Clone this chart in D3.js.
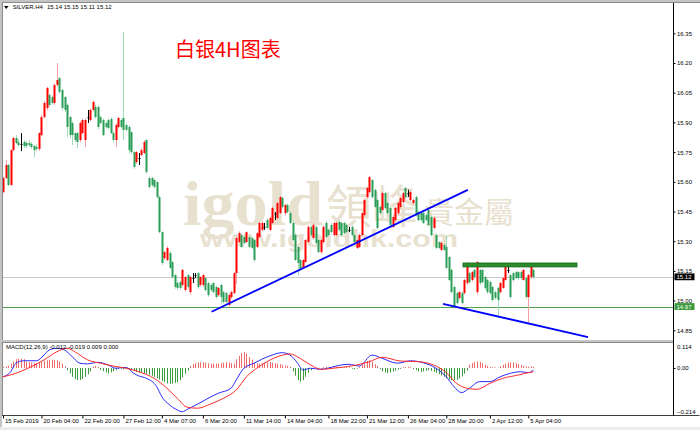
<!DOCTYPE html>
<html><head><meta charset="utf-8">
<script src="https://cdn.jsdelivr.net/npm/d3@7"></script>
<style>body{margin:0;background:#fff}svg{display:block}</style>
</head><body>
<svg id="chart" width="700" height="430"></svg>
<script>
// ---------- DATA ----------
const opens=[15.548,15.619,15.685,15.584,15.76,15.821,15.80,15.791,15.801,15.796,15.796,15.791,15.781,15.776,15.766,15.836,15.927,15.973,16.038,16.028,15.998,16.089,16.124,16.064,16.028,15.988,15.927,15.897,15.846,15.846,15.811,15.846,15.811,15.927,15.912,15.963,15.978,15.978,15.927,15.912,15.897,15.912,15.917,15.846,15.811,15.877,15.912,15.922,15.887,15.877,15.851,15.75,15.70,15.72,15.735,15.745,15.811,15.619,15.619,15.609,15.599,15.523,15.346,15.215,15.205,15.24,15.195,15.129,15.089,15.094,15.079,15.054,15.129,15.043,15.114,15.129,15.139,15.079,15.079,15.114,15.089,15.079,15.089,15.069,15.028,15.079,15.043,15.038,14.978,15.018,15.038,15.139,15.296,15.331,15.321,15.296,15.321,15.316,15.306,15.271,15.321,15.357,15.372,15.407,15.357,15.392,15.44,15.417,15.442,15.518,15.442,15.483,15.442,15.392,15.331,15.271,15.205,15.165,15.195,15.296,15.372,15.316,15.372,15.306,15.245,15.296,15.392,15.357,15.382,15.331,15.331,15.397,15.392,15.392,15.382,15.357,15.372,15.331,15.266,15.271,15.331,15.432,15.523,15.548,15.609,15.559,15.508,15.473,15.458,15.543,15.493,15.468,15.372,15.407,15.442,15.473,15.498,15.569,15.543,15.508,15.493,15.523,15.447,15.442,15.442,15.432,15.458,15.422,15.367,15.331,15.296,15.256,15.281,15.271,15.22,15.155,15.069,15.038,15.013,15.038,15.038,15.089,15.139,15.104,15.155,15.043,15.155,15.155,15.119,15.104,15.094,15.069,15.043,15.064,15.043,15.064,15.104,15.155,15.129,15.139,15.144,15.144,15.144,15.104,15.114,15.018,15.119,15.155];
const highs=[15.625,15.71,15.69,15.765,15.826,15.836,15.816,15.846,15.811,15.806,15.811,15.80,15.786,15.79,15.85,15.937,16.008,16.08,16.045,16.035,16.095,16.20,16.13,16.07,16.035,15.995,15.932,15.905,15.85,15.85,15.905,15.92,15.92,15.963,15.97,16.013,15.99,15.985,15.935,15.92,15.905,15.92,15.925,15.855,15.895,15.93,15.92,16.358,15.895,15.885,15.855,15.755,15.755,15.745,15.77,15.81,15.815,15.625,15.625,15.615,15.605,15.53,15.35,15.25,15.275,15.25,15.2,15.135,15.095,15.1,15.16,15.125,15.135,15.125,15.139,15.139,15.145,15.125,15.135,15.12,15.095,15.085,15.095,15.075,15.07,15.085,15.05,15.045,15.035,15.05,15.145,15.325,15.35,15.34,15.33,15.35,15.33,15.32,15.31,15.345,15.40,15.40,15.392,15.415,15.425,15.475,15.447,15.50,15.53,15.525,15.49,15.49,15.45,15.40,15.34,15.275,15.21,15.21,15.31,15.38,15.38,15.39,15.38,15.31,15.31,15.38,15.40,15.365,15.39,15.40,15.40,15.405,15.40,15.40,15.39,15.372,15.38,15.34,15.31,15.34,15.45,15.515,15.575,15.63,15.615,15.565,15.515,15.48,15.55,15.55,15.50,15.475,15.43,15.475,15.50,15.525,15.55,15.575,15.56,15.555,15.515,15.53,15.455,15.45,15.45,15.44,15.465,15.43,15.425,15.34,15.30,15.30,15.29,15.331,15.225,15.16,15.075,15.045,15.05,15.045,15.11,15.195,15.145,15.15,15.16,15.20,15.16,15.16,15.125,15.11,15.10,15.075,15.05,15.07,15.095,15.12,15.175,15.18,15.135,15.145,15.15,15.15,15.15,15.16,15.12,15.135,15.175,15.16];
const lows=[15.543,15.614,15.578,15.578,15.755,15.79,15.776,15.755,15.771,15.771,15.776,15.766,15.725,15.755,15.755,15.83,15.92,15.96,15.978,15.99,15.99,16.08,16.045,15.96,15.952,15.826,15.82,15.786,15.80,15.77,15.80,15.84,15.776,15.897,15.905,15.955,15.92,15.865,15.89,15.83,15.87,15.865,15.84,15.80,15.776,15.87,15.87,15.811,15.855,15.745,15.74,15.665,15.69,15.685,15.73,15.74,15.64,15.565,15.575,15.565,15.515,15.34,15.18,15.205,15.2,15.16,15.11,15.06,15.055,15.055,15.07,15.045,15.06,15.03,15.089,15.114,15.06,15.07,15.07,15.045,15.02,15.045,15.035,15.01,15.02,14.978,14.985,14.985,14.97,15.01,15.03,15.085,15.29,15.265,15.285,15.29,15.265,15.26,15.195,15.265,15.315,15.35,15.357,15.36,15.35,15.385,15.407,15.41,15.437,15.465,15.43,15.44,15.385,15.30,15.20,15.129,15.15,15.16,15.19,15.29,15.325,15.31,15.285,15.24,15.235,15.29,15.315,15.325,15.34,15.325,15.325,15.35,15.325,15.335,15.34,15.346,15.325,15.29,15.26,15.265,15.325,15.425,15.515,15.54,15.515,15.465,15.36,15.435,15.45,15.46,15.435,15.375,15.365,15.40,15.435,15.465,15.49,15.515,15.523,15.50,15.485,15.425,15.40,15.40,15.385,15.40,15.375,15.325,15.36,15.26,15.26,15.25,15.25,15.16,15.10,15.035,14.96,14.98,15.005,14.98,15.03,15.08,15.085,15.095,15.11,15.03,15.08,15.085,15.055,15.035,15.03,14.995,15.005,14.917,15.035,15.06,15.10,15.139,15.01,15.095,15.11,15.105,15.105,15.10,15.01,14.887,15.11,15.11];
const closes=[15.619,15.685,15.584,15.76,15.821,15.796,15.786,15.791,15.781,15.781,15.786,15.776,15.76,15.766,15.846,15.927,15.998,16.074,15.988,15.998,16.089,16.114,16.054,15.973,15.963,15.877,15.836,15.836,15.811,15.801,15.897,15.912,15.912,15.927,15.963,16.003,15.927,15.877,15.897,15.836,15.877,15.872,15.846,15.811,15.887,15.922,15.877,15.862,15.862,15.76,15.75,15.675,15.75,15.72,15.76,15.801,15.65,15.574,15.584,15.574,15.523,15.346,15.19,15.245,15.266,15.165,15.119,15.069,15.064,15.064,15.155,15.119,15.069,15.119,15.114,15.129,15.069,15.119,15.129,15.054,15.028,15.054,15.043,15.018,15.064,15.018,14.993,14.993,15.028,15.043,15.139,15.316,15.341,15.271,15.291,15.346,15.271,15.266,15.205,15.341,15.392,15.392,15.372,15.367,15.417,15.468,15.44,15.493,15.523,15.473,15.483,15.447,15.392,15.306,15.205,15.19,15.155,15.205,15.306,15.372,15.331,15.382,15.291,15.245,15.306,15.372,15.321,15.331,15.346,15.392,15.392,15.357,15.331,15.341,15.346,15.357,15.331,15.296,15.306,15.331,15.442,15.508,15.569,15.624,15.523,15.473,15.367,15.442,15.543,15.468,15.442,15.382,15.422,15.468,15.493,15.518,15.543,15.523,15.543,15.548,15.508,15.432,15.407,15.407,15.392,15.407,15.382,15.331,15.417,15.266,15.266,15.291,15.256,15.165,15.104,15.043,14.968,14.988,15.043,14.988,15.104,15.17,15.094,15.144,15.119,15.195,15.089,15.094,15.064,15.043,15.038,15.003,15.013,15.003,15.089,15.114,15.17,15.155,15.018,15.104,15.114,15.114,15.114,15.155,15.018,15.129,15.17,15.119];

// MACD histogram (thousandths), one per bar
const histogram=[5,8,10,20,30,40,43,43,40,28,27,25,22,22,25,30,33,35,37,38,37,35,30,20,8,-10,-25,-40,-50,-55,-55,-50,-40,-28,-15,5,8,5,-8,-15,-20,-25,-20,-15,-10,-5,-3,-6,-4,-8,-10,-12,-18,-20,-22,-24,-26,-30,-35,-41,-46,-52,-58,-64,-70,-71,-71,-68,-64,-55,-42,-26,-11,10,18,22,25,27,27,25,22,20,20,20,20,22,25,27,25,22,20,40,55,68,73,65,50,38,25,22,20,22,24,25,27,25,22,20,18,15,12,10,6,-15,-35,-55,-62,-55,-40,-22,-10,-4,3,-3,-5,4,5,-3,2,4,6,5,4,3,5,3,-4,-6,-3,5,15,25,32,35,28,18,10,-5,-15,-20,-23,-20,-16,-12,-8,-4,3,5,6,4,-5,-10,-15,-18,-15,-12,-10,-13,-17,-22,-28,-34,-40,-46,-52,-56,-56,-54,-48,-38,-26,-12,15,22,28,30,28,22,15,10,5,4,3,2,8,15,20,25,26,25,22,18,14,10,8,6,8,6];
// MACD main line (blue) read points: bar index / value
const macdIdx=[0,3,5,8,13,16,18,21,24,27,30,33,37,41,44,48,51,53,56,60,62,65,68,70,72,76,80,84,89,91,94,98,101,105,109,112,115,117,120,124,128,132,135,139,144,148,154,159,164,169,173,176,179,182,186,190,194,198,202,205,207];
const macdVal=[-0.040,-0.017,0.022,0.033,0.033,0.059,0.082,0.090,0.082,0.052,0.022,0.019,0.026,0.014,-0.001,0.003,-0.024,-0.036,-0.047,-0.085,-0.131,-0.168,-0.191,-0.199,-0.188,-0.164,-0.138,-0.115,-0.092,-0.055,-0.001,0.022,0.040,0.059,0.070,0.059,0.022,-0.009,-0.001,-0.006,0.003,0.014,0.017,0.009,0.059,0.044,0.022,0.033,0.024,-0.001,-0.040,-0.085,-0.112,-0.092,-0.062,-0.062,-0.040,-0.024,-0.017,-0.021,-0.009];
// Signal line (red)
const sigIdx=[0,5,11,16,21,25,29,33,38,43,48,53,59,64,68,72,76,81,86,91,95,99,103,108,112,116,120,124,129,134,138,143,148,155,162,168,173,177,181,185,190,195,201,205,207];
const sigVal=[-0.040,-0.024,0.006,0.037,0.074,0.090,0.067,0.037,0.022,0.009,-0.001,-0.017,-0.047,-0.092,-0.138,-0.179,-0.183,-0.164,-0.138,-0.100,-0.040,-0.001,0.029,0.055,0.064,0.044,0.014,-0.006,-0.001,0.006,0.014,0.029,0.049,0.032,0.029,0.014,-0.021,-0.070,-0.092,-0.097,-0.070,-0.047,-0.032,-0.021,-0.017];

const priceTicks=[16.35,16.20,16.05,15.90,15.75,15.60,15.45,15.30,15.15,15.00,14.85];
const macdTicks=[0.114,0,-0.214];
const dateLabels=["15 Feb 2019","20 Feb 04:00","22 Feb 20:00","27 Feb 12:00","4 Mar 07:00","6 Mar 20:00","11 Mar 14:00","14 Mar 04:00","18 Mar 22:00","21 Mar 12:00","26 Mar 04:00","28 Mar 20:00","2 Apr 12:00","5 Apr 04:00"];
const dateIdx=[0,15,31,47,62,78,94,110,127,142,158,173,190,205];

// drawn objects (bar index, price)
const trendUp=[[81.4,14.944],[181.4,15.559]];
const trendDown=[[171.7,14.983],[228.3,14.816]];
const resistance={from:179.5,to:224,top:15.19,bottom:15.17};
const bidPrice=15.12, linePrice=14.97;
const header=["SILVER,H4","15.14 15.15 15.11 15.12"];
const macdTitle="MACD(12,26,9) -0.012 -0.019 0.009 0.000";
const title="白银4H图表";

// ---------- DRAWING ----------
const svg=d3.select("#chart");
const FONT="'Liberation Sans', Arial, sans-serif";
const N=closes.length;
const x=d3.scaleLinear().domain([0,N-1]).range([3,3+(N-1)*2.5625]);
const y=d3.scaleLinear().domain([14.85,16.35]).range([330.3,33.3]);
const ym=d3.scaleLinear().domain([-0.214,0.114]).range([415,343]);
const AX=673.5;

svg.append("rect").attr("width",700).attr("height",430).attr("fill","#fff");
const defs=svg.append("defs");
defs.append("clipPath").attr("id","cm").append("rect").attr("x",2.5).attr("y",3).attr("width",AX-2.5).attr("height",337);
defs.append("clipPath").attr("id","cd").append("rect").attr("x",2.5).attr("y",343).attr("width",AX-2.5).attr("height",72);

// watermark
const wm=svg.append("g").attr("fill","#e8e1d0");
wm.append("text").attr("x",183).attr("y",225).attr("font-family","'Liberation Serif', serif").attr("font-weight","bold").attr("font-size",64).attr("textLength",140).attr("lengthAdjust","spacingAndGlyphs").text("igold");
wm.append("text").attr("x",326).attr("y",223).attr("font-family","'Noto Sans CJK TC', sans-serif").attr("font-size",46).text("領峰");
wm.append("text").attr("x",424).attr("y",223).attr("font-family","'Noto Sans CJK TC', sans-serif").attr("font-size",30).text("貴金屬");
wm.append("text").attr("x",200).attr("y",247).attr("font-family","'Liberation Sans', Arial, sans-serif").attr("font-weight","bold").attr("font-size",24).attr("textLength",258).attr("lengthAdjust","spacingAndGlyphs").text("www.igoldhk.com");

// main panel
const main=svg.append("g").attr("clip-path","url(#cm)");
main.append("line").attr("x1",3).attr("x2",AX).attr("y1",Math.round(y(bidPrice))+0.5).attr("y2",Math.round(y(bidPrice))+0.5).attr("stroke","#c8c8c8");
main.append("line").attr("x1",3).attr("x2",AX).attr("y1",Math.round(y(linePrice))+0.5).attr("y2",Math.round(y(linePrice))+0.5).attr("stroke","#4fa04f");

const bars=d3.range(N).map(i=>({i,o:opens[i],h:highs[i],l:lows[i],c:closes[i]}));
const col=d=>d.c>d.o?"up":(d.c<d.o?"down":"doji");
const wickC={up:"#f5a0a0",down:"#a3dab8",doji:"#000"};
const bodyC={up:"#ff0000",down:"#2a9d57",doji:"#000"};
const cx=d=>Math.round(x(d.i));
main.append("g").selectAll("line").data(bars).join("line")
  .attr("x1",d=>cx(d)+0.5).attr("x2",d=>cx(d)+0.5)
  .attr("y1",d=>y(d.h)).attr("y2",d=>y(d.l))
  .attr("stroke",d=>wickC[col(d)]).attr("stroke-width",1);
main.append("g").selectAll("rect").data(bars).join("rect")
  .attr("x",d=>cx(d)-0.5).attr("width",2)
  .attr("y",d=>y(Math.max(d.o,d.c)))
  .attr("height",d=>Math.max(1,Math.abs(y(d.o)-y(d.c))))
  .attr("fill",d=>bodyC[col(d)]);

// objects
main.append("rect").attr("x",x(resistance.from)).attr("width",x(resistance.to)-x(resistance.from))
  .attr("y",y(resistance.top)).attr("height",y(resistance.bottom)-y(resistance.top))
  .attr("fill","#2a8c2a").attr("stroke","#17691a").attr("stroke-width",0.8);
const tl=d3.line().x(d=>x(d[0])).y(d=>y(d[1]));
main.append("path").attr("d",tl(trendUp)).attr("stroke","#0000ff").attr("stroke-width",1.8).attr("fill","none");
main.append("path").attr("d",tl(trendDown)).attr("stroke","#0000ff").attr("stroke-width",1.8).attr("fill","none");

// MACD panel
const sub=svg.append("g").attr("clip-path","url(#cd)");
sub.append("g").selectAll("line").data(histogram.map((v,i)=>({i,v:v/1000}))).join("line")
  .attr("x1",d=>Math.round(x(d.i))+0.5).attr("x2",d=>Math.round(x(d.i))+0.5)
  .attr("y1",ym(0)).attr("y2",d=>ym(d.v))
  .attr("stroke",d=>d.v>=0?"#f06a6a":"#3b9b3b").attr("stroke-width",1);
const ml=d3.line().x(d=>x(d[0])).y(d=>ym(d[1])).curve(d3.curveMonotoneX);
sub.append("path").attr("d",ml(macdIdx.map((v,k)=>[v,macdVal[k]]))).attr("stroke","#2a2aff").attr("fill","none").attr("stroke-width",1);
sub.append("path").attr("d",ml(sigIdx.map((v,k)=>[v,sigVal[k]]))).attr("stroke","#ff2a2a").attr("fill","none").attr("stroke-width",1);

// frame
svg.append("rect").attr("x",0).attr("y",0).attr("width",700).attr("height",2).attr("fill","#c4c4c4");
svg.append("line").attr("x1",0).attr("x2",700).attr("y1",2.5).attr("y2",2.5).attr("stroke","#8c8c8c");
svg.append("rect").attr("x",0).attr("y",0).attr("width",2).attr("height",430).attr("fill","#c4c4c4");
svg.append("line").attr("x1",2.5).attr("x2",2.5).attr("y1",2).attr("y2",415).attr("stroke","#8c8c8c");
svg.append("rect").attr("x",2).attr("y",340).attr("width",AX-2).attr("height",2).attr("fill","#c4c4c4");
svg.append("line").attr("x1",2).attr("x2",AX).attr("y1",342.5).attr("y2",342.5).attr("stroke","#8c8c8c");
svg.append("line").attr("x1",2).attr("x2",AX+26).attr("y1",415.5).attr("y2",415.5).attr("stroke","#404040");
svg.append("line").attr("x1",AX).attr("x2",AX).attr("y1",3).attr("y2",415.5).attr("stroke","#000");
svg.append("rect").attr("x",0).attr("y",427).attr("width",700).attr("height",3).attr("fill","#ececec");

// price axis
const pa=svg.append("g").attr("transform",`translate(${AX},0)`)
  .call(d3.axisRight(y).tickValues(priceTicks).tickSize(2).tickPadding(1.5).tickFormat(d3.format(".2f")));
pa.select(".domain").remove();
pa.selectAll("text").attr("font-family",FONT).attr("font-size",6).attr("fill","#000");
pa.selectAll("line").attr("stroke","#000");

// price markers
function marker(p,fill){
  const g=svg.append("g");
  g.append("rect").attr("x",AX+1).attr("y",y(p)-3.4).attr("width",20).attr("height",6.8).attr("fill",fill);
  g.append("text").attr("x",AX+3).attr("y",y(p)+2.1).attr("font-family",FONT).attr("font-size",6).attr("fill","#fff").text(d3.format(".2f")(p));
}
marker(bidPrice,"#000");
marker(linePrice,"#389a38");

// macd axis
const ma=svg.append("g").attr("transform",`translate(${AX},0)`)
  .call(d3.axisRight(ym).tickValues(macdTicks).tickSize(2).tickPadding(1.5).tickFormat(d=>d===0?"0.00":d3.format(".3f")(d)));
ma.select(".domain").remove();
ma.selectAll(".tick line").attr("stroke",d=>d===0?"#000":"none");
ma.selectAll("text").attr("font-family",FONT).attr("font-size",6).attr("fill","#000")
  .attr("dy",d=>d>0.1?"0.95em":(d<-0.2?"-0.25em":"0.32em"));

// date axis
const da=svg.append("g").attr("transform","translate(0,415.5)")
  .call(d3.axisBottom(x).tickValues(dateIdx).tickSize(3).tickFormat((d,k)=>dateLabels[k]));
da.select(".domain").remove();
da.selectAll("line").attr("stroke","#000");
da.selectAll("text").attr("font-family",FONT).attr("font-size",6).attr("fill","#000")
  .attr("text-anchor","start").attr("x",1.5).attr("y",3.2);

// header
svg.append("path").attr("d","M4,6 L8.5,6 L6.25,9 Z").attr("fill","#000");
svg.append("text").attr("x",12.7).attr("y",9.3).attr("font-family",FONT).attr("font-size",6).attr("fill","#000").text(header[0]);
svg.append("text").attr("x",47).attr("y",9.3).attr("font-family",FONT).attr("font-size",6).attr("fill","#000").text(header[1]);
svg.append("text").attr("x",6).attr("y",349.3).attr("font-family",FONT).attr("font-size",6).attr("fill","#000").text(macdTitle);
svg.append("text").attr("x",175).attr("y",57).attr("font-family","'Noto Sans CJK SC', sans-serif").attr("font-size",20).attr("fill","#ff0000").text(title);
</script>
</body></html>
